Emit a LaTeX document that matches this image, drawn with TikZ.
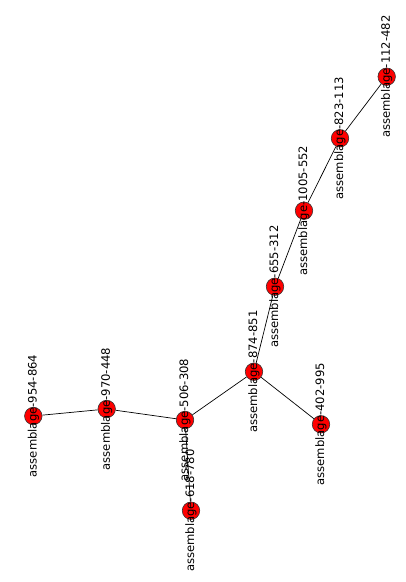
\documentclass[tikz,border=0pt]{standalone}
\usepackage{fontspec}
\setmainfont{DejaVu Sans}
\usetikzlibrary{backgrounds}

\begin{document}
\begin{tikzpicture}[
    x=1pt, y=-1pt,
    vert/.style={circle, draw=black!80, fill=red, line width=0.6pt,
                 minimum size=17.5pt, inner sep=0pt},
    lbl/.style={rotate=90, font=\fontsize{11.6}{12}\selectfont, inner sep=0pt},
    edge/.style={draw=black, line width=0.7pt}
  ]
    \useasboundingbox (0,0) rectangle (406,582);

    \node[vert] (a112) at (386.7,76.7)  {};
    \node[vert] (a823) at (340.0,138.3) {};
    \node[vert] (a1005) at (304.0,210.7) {};
    \node[vert] (a655) at (275.0,286.7) {};
    \node[vert] (a874) at (254.0,371.7) {};
    \node[vert] (a402) at (321.0,424.3) {};
    \node[vert] (a506) at (185.0,420.0) {};
    \node[vert] (a618) at (191.0,510.7) {};
    \node[vert] (a970) at (106.7,409.0) {};
    \node[vert] (a954) at (33.3,416.0)  {};

    % labels on top of the vertices
    \foreach \n/\t in {a112/112-482, a823/823-113, a1005/1005-552, a655/655-312,
                       a874/874-851, a402/402-995, a506/506-308, a618/618-780,
                       a970/970-448, a954/954-864}
      \node[lbl] (\n-lbl) at (\n) {assemblage-\t};

    \begin{scope}[on background layer]
      \foreach \a/\b in {a112/a823, a823/a1005, a1005/a655, a655/a874,
                         a874/a402, a874/a506, a506/a618, a506/a970, a970/a954}
        \draw[edge] (\a) -- (\b);
    \end{scope}
\end{tikzpicture}
\end{document}
